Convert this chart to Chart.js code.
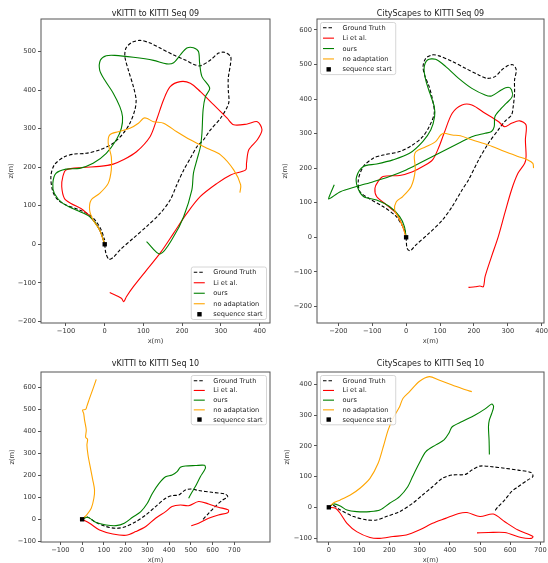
<!DOCTYPE html>
<html>
<head>
<meta charset="utf-8">
<script src="https://cdn.jsdelivr.net/npm/chart.js@4.4.0/dist/chart.umd.min.js"></script>
<style>
  html, body { margin: 0; padding: 0; background: #fff; }
  body { width: 548px; height: 563px; position: relative; overflow: hidden; }
  canvas { position: absolute; }
</style>
</head>
<body>
<canvas id="c1" width="274" height="345" style="left:0;top:0"></canvas>
<canvas id="c2" width="274" height="345" style="left:274px;top:0"></canvas>
<canvas id="c3" width="274" height="214" style="left:0;top:350px"></canvas>
<canvas id="c4" width="274" height="214" style="left:274px;top:350px"></canvas>
<script>
// series names (legend order)
const seriesLabels = ['Ground Truth', 'Li et al.', 'ours', 'no adaptation', 'sequence start'];
const titles = ['vKITTI to KITTI Seq 09', 'CityScapes to KITTI Seq 09', 'vKITTI to KITTI Seq 10', 'CityScapes to KITTI Seq 10'];

// trajectories as [x(m), z(m)] pairs

// vKITTI -> KITTI seq 09
const v09_gt = [[0,0],[3,-23],[11,-39],[22,-34],[39,-15],[74,16],[108,46],[143,80],[169,115],[186,154],[204,193],[221,223],[238,253],[255,271],[273,297],[299,327],[320,366],[319,400],[319,431],[325,470],[325,487],[309,498],[294,496],[273,478],[247,463],[229,467],[208,478],[178,491],[143,509],[117,522],[91,529],[69,523],[55,509],[52,487],[61,452],[74,409],[81,375],[78,349],[65,314],[48,288],[22,262],[-13,245],[-48,236],[-78,234],[-104,227],[-130,206],[-139,176],[-134,137],[-121,115],[-100,102],[-65,89],[-39,76],[-22,59],[-9,37],[0,11]];
const v09_li = [[0,0],[-13,37],[-30,63],[-56,89],[-87,106],[-104,119],[-111,150],[-108,176],[-100,193],[-56,199],[-13,202],[22,208],[48,219],[82,240],[117,279],[134,323],[152,375],[169,409],[195,422],[221,418],[247,396],[281,362],[316,327],[333,310],[368,312],[394,318],[406,297],[394,271],[372,245],[366,210],[364,193],[325,180],[290,158],[247,124],[212,80],[178,29],[143,-23],[108,-67],[74,-110],[56,-136],[49,-149],[43,-140],[13,-125]];
const v09_ours = [[0,0],[-13,37],[-39,72],[-74,89],[-108,106],[-130,132],[-134,158],[-126,184],[-100,195],[-65,197],[-30,210],[4,236],[30,271],[43,301],[46,331],[39,357],[22,392],[0,426],[-13,452],[-11,478],[4,489],[26,490],[74,485],[126,477],[160,468],[178,471],[195,491],[212,509],[229,510],[242,500],[245,470],[251,435],[271,405],[260,383],[254,349],[251,288],[247,253],[238,219],[229,184],[225,141],[204,72],[178,20],[143,-25],[108,7]];
const v09_noad = [[0,0],[-13,37],[-30,63],[-39,89],[-35,115],[-13,132],[9,158],[17,193],[17,227],[9,262],[13,284],[35,292],[65,301],[87,314],[100,327],[108,327],[126,318],[152,314],[186,292],[221,271],[264,249],[299,232],[333,193],[351,154],[349,134]];

// CityScapes -> KITTI seq 09
const c09_gt = [[0,0],[3,-32],[12,-39],[29,-22],[68,12],[107,50],[136,89],[165,137],[184,166],[214,224],[243,272],[272,311],[291,335],[311,354],[316,378],[320,417],[320,455],[325,484],[316,499],[301,497],[282,484],[262,465],[238,460],[214,470],[175,489],[136,509],[97,525],[78,528],[58,518],[50,494],[56,465],[68,436],[78,398],[83,359],[68,320],[49,291],[19,267],[-19,248],[-68,238],[-97,229],[-126,205],[-141,166],[-136,132],[-107,111],[-68,89],[-29,60],[-10,31],[0,12]];
const c09_li = [[0,0],[-10,31],[-29,69],[-58,94],[-87,118],[-92,142],[-83,161],[-68,176],[-19,179],[19,190],[49,205],[78,224],[97,262],[112,301],[136,359],[165,383],[194,383],[233,359],[272,335],[291,320],[311,330],[335,337],[354,325],[352,282],[354,234],[350,214],[330,185],[311,137],[291,69],[272,2],[252,-56],[233,-114],[228,-143],[218,-141],[204,-143],[184,-145]];
const c09_ours = [[0,0],[-5,31],[-19,60],[-49,89],[-87,108],[-126,118],[-144,147],[-146,176],[-126,205],[-87,212],[-39,224],[10,243],[49,277],[73,311],[84,349],[83,378],[70,417],[58,455],[53,489],[63,513],[87,515],[117,494],[155,460],[194,431],[233,412],[252,409],[282,427],[301,434],[311,427],[313,407],[296,388],[277,369],[262,349],[260,320],[252,306],[233,301],[194,291],[155,272],[97,243],[39,214],[0,195],[-49,176],[-97,161],[-146,147],[-194,132],[-228,111],[-223,127],[-212,152]];
const c09_noad = [[0,0],[-10,31],[-24,60],[-34,79],[-29,103],[-10,118],[15,147],[27,195],[24,234],[29,248],[58,262],[87,277],[102,296],[112,301],[136,296],[160,294],[194,282],[243,267],[291,248],[330,234],[359,224],[374,214],[376,200]];

// vKITTI -> KITTI seq 10
const v10_gt = [[0,0],[19,12],[65,-15],[110,-33],[156,-41],[202,-33],[247,-11],[293,20],[338,58],[384,96],[414,108],[445,111],[475,134],[506,138],[536,131],[597,123],[658,115],[670,103],[643,85],[612,58],[582,27],[551,-6]];
const v10_li = [[0,0],[34,-18],[80,-49],[141,-67],[202,-73],[247,-56],[293,-33],[338,5],[384,35],[414,58],[452,65],[490,62],[536,81],[582,70],[627,55],[673,43],[670,30],[627,20],[582,5],[536,-18],[502,-29]];
const v10_ours = [[0,0],[26,9],[65,-15],[110,-26],[156,-29],[194,-18],[232,9],[270,35],[300,73],[323,118],[354,164],[384,194],[414,202],[437,217],[452,237],[475,243],[521,245],[563,246],[567,232],[544,194],[521,149],[502,118],[490,96]];
const v10_noad = [[0,0],[21,20],[42,50],[54,96],[57,134],[49,179],[37,240],[27,293],[22,339],[25,365],[16,374],[19,407],[11,453],[7,483],[2,498],[16,501],[22,516],[34,551],[49,592],[65,638]];

// CityScapes -> KITTI seq 10
const c10_gt = [[0,0],[11,8],[38,-9],[82,-30],[125,-41],[158,-41],[190,-30],[234,-14],[277,13],[310,40],[343,67],[375,94],[408,105],[452,107],[473,121],[500,134],[539,132],[582,127],[626,121],[669,113],[675,100],[658,89],[626,67],[604,51],[582,24],[560,2],[547,-14]];
const c10_li = [[0,0],[22,-3],[38,-20],[60,-52],[92,-79],[136,-98],[169,-101],[212,-95],[256,-90],[299,-74],[343,-52],[386,-36],[430,-20],[457,-17],[500,-30],[544,-22],[582,-47],[626,-74],[675,-95],[669,-101],[636,-98],[582,-82],[528,-82],[490,-83]];
const c10_ours = [[0,0],[16,11],[38,4],[60,-9],[92,-14],[136,-14],[169,-9],[201,13],[234,35],[261,67],[277,100],[299,143],[321,181],[354,203],[381,219],[397,241],[408,262],[441,279],[484,300],[517,320],[539,336],[545,327],[539,306],[531,284],[528,262],[530,219],[531,172]];
const c10_noad = [[0,0],[16,15],[38,24],[71,40],[103,62],[136,94],[163,143],[180,197],[196,251],[212,289],[234,327],[245,354],[267,376],[299,409],[332,425],[364,414],[408,398],[452,382],[473,376]];

const startPoint = [[0, 0]];

// tick values per chart
const v09_xticks = [-100, 0, 100, 200, 300, 400];
const v09_yticks = [-200, -100, 0, 100, 200, 300, 400, 500];
const c09_xticks = [-200, -100, 0, 100, 200, 300, 400];
const c09_yticks = [-200, -100, 0, 100, 200, 300, 400, 500, 600];
const v10_xticks = [-100, 0, 100, 200, 300, 400, 500, 600, 700];
const v10_yticks = [-100, 0, 100, 200, 300, 400, 500, 600];
const c10_xticks = [0, 100, 200, 300, 400, 500, 600, 700];
const c10_yticks = [-100, 0, 100, 200, 300, 400];

const FONT = '"DejaVu Sans", sans-serif';
const fmt = v => (v < 0 ? '\u2212' + Math.abs(v) : String(v));

// frame, title and in-axes legend, matplotlib style
const framePlugin = {
  id: 'frame',
  afterDraw(chart, args, opts) {
    const ctx = chart.ctx, a = chart.chartArea;
    ctx.save();
    ctx.strokeStyle = '#555';
    ctx.lineWidth = 1;
    ctx.strokeRect(a.left, a.top, a.right - a.left, a.bottom - a.top);

    ctx.fillStyle = '#222';
    ctx.font = '8px ' + FONT;
    ctx.textAlign = 'center';
    ctx.textBaseline = 'middle';
    ctx.fillText(opts.title, (a.left + a.right) / 2, opts.titleY);

    // legend
    const ds = chart.data.datasets;
    ctx.font = '6.6px ' + FONT;
    const tw = Math.max(...ds.map(d => ctx.measureText(d.label).width));
    const rowH = opts.rowH;
    const w = 22 + tw + 4, h = rowH * (ds.length - 1) + 10.5;
    const x0 = opts.loc.includes('right') ? a.right - 3.5 - w : a.left + 3.5;
    const y0 = opts.loc.includes('lower') ? a.bottom - 3.5 - h : a.top + 3.5;
    ctx.fillStyle = 'rgba(255,255,255,0.85)';
    ctx.strokeStyle = '#ccc';
    ctx.lineWidth = 0.8;
    ctx.beginPath();
    if (ctx.roundRect) ctx.roundRect(x0, y0, w, h, 2); else ctx.rect(x0, y0, w, h);
    ctx.fill();
    ctx.stroke();
    ds.forEach((d, i) => {
      const cy = y0 + 5.25 + i * rowH;
      if (d.showLine === false) {
        ctx.fillStyle = '#000';
        ctx.fillRect(x0 + 6, cy - 2.2, 4.4, 4.4);
      } else {
        ctx.strokeStyle = d.borderColor;
        ctx.lineWidth = d.borderWidth;
        ctx.setLineDash(d.borderDash || []);
        ctx.beginPath();
        ctx.moveTo(x0 + 2.5, cy);
        ctx.lineTo(x0 + 13.5, cy);
        ctx.stroke();
        ctx.setLineDash([]);
      }
      ctx.fillStyle = '#222';
      ctx.textAlign = 'left';
      ctx.fillText(d.label, x0 + 22, cy + 0.3);
    });
    ctx.restore();
  }
};

function lineSet(label, data, color, order, dash) {
  return {
    label, data, showLine: true, borderColor: color, backgroundColor: color,
    borderWidth: 1.1, pointRadius: 0, tension: 0.3, order, borderDash: dash || []
  };
}

function makeChart(id, title, titleY, loc, rowH, series, xr, yr, xt, yt, pad, yw, xh, ytPad) {
  const tickFont = { size: 6.7, family: FONT };
  const axisBase = {
    type: 'linear',
    border: { display: false },
    grid: { display: true, drawOnChartArea: false, drawTicks: true, tickLength: 3, color: '#555' },
  };
  return new Chart(document.getElementById(id).getContext('2d'), {
    type: 'scatter',
    data: {
      datasets: [
        lineSet(seriesLabels[0], series[0], '#000000', 5, [3.5, 2]),
        lineSet(seriesLabels[1], series[1], '#ff0000', 4),
        lineSet(seriesLabels[2], series[2], '#008000', 3),
        lineSet(seriesLabels[3], series[3], '#ffa500', 2),
        { label: seriesLabels[4], data: startPoint, showLine: false, pointStyle: 'rect',
          pointRadius: 3.1, backgroundColor: '#000', borderColor: '#000', borderWidth: 0, order: 1 }
      ]
    },
    options: {
      responsive: false,
      animation: false,
      events: [],
      layout: { padding: pad },
      plugins: {
        legend: { display: false },
        tooltip: { enabled: false },
        frame: { title, titleY, loc, rowH }
      },
      scales: {
        x: Object.assign({}, axisBase, {
          min: xr[0], max: xr[1],
          afterBuildTicks: s => { s.ticks = xt.map(v => ({ value: v })); },
          afterFit: s => { s.height = xh; s.paddingLeft = 0; s.paddingRight = 0; },
          ticks: { padding: 1.5, font: tickFont, color: '#333', maxRotation: 0, autoSkip: false, callback: v => fmt(v) },
          title: { display: true, text: 'x(m)', font: tickFont, color: '#333', padding: { top: 0, bottom: 0 } }
        }),
        y: Object.assign({}, axisBase, {
          min: yr[0], max: yr[1],
          afterBuildTicks: s => { s.ticks = yt.map(v => ({ value: v })); },
          afterFit: s => { s.width = yw; s.paddingTop = 0; s.paddingBottom = 0; },
          ticks: { padding: 2, font: tickFont, color: '#333', autoSkip: false, callback: v => fmt(v) },
          title: { display: true, text: 'z(m)', font: tickFont, color: '#333', padding: { top: ytPad, bottom: 0 } }
        })
      }
    },
    plugins: [framePlugin]
  });
}

makeChart('c1', titles[0], 14, 'lower right', 10.5, [v09_gt, v09_li, v09_ours, v09_noad],
  [-164.5, 426.7], [-204.2, 584.4], v09_xticks, v09_yticks,
  { top: 19, right: 3, left: 0, bottom: 0 }, 41, 22, 7.5);
makeChart('c2', titles[1], 13.5, 'upper left', 10.4, [c09_gt, c09_li, c09_ours, c09_noad],
  [-263, 406.9], [-248, 631.7], c09_xticks, c09_yticks,
  { top: 19, right: 1, left: 0, bottom: 0 }, 43, 22, 7.5);
makeChart('c3', titles[2], 14.3, 'upper right', 9.7, [v10_gt, v10_li, v10_ours, v10_noad],
  [-189.3, 864.5], [-103.5, 671.4], v10_xticks, v10_yticks,
  { top: 22, right: 2, left: 0, bottom: 0 }, 41, 22, 8.5);
makeChart('c4', titles[3], 14.3, 'upper left', 9.7, [c10_gt, c10_li, c10_ours, c10_noad],
  [-39.2, 711.7], [-112.8, 440], c10_xticks, c10_yticks,
  { top: 22, right: 1, left: 0, bottom: 0 }, 43, 22, 9.5);
</script>
</body>
</html>
